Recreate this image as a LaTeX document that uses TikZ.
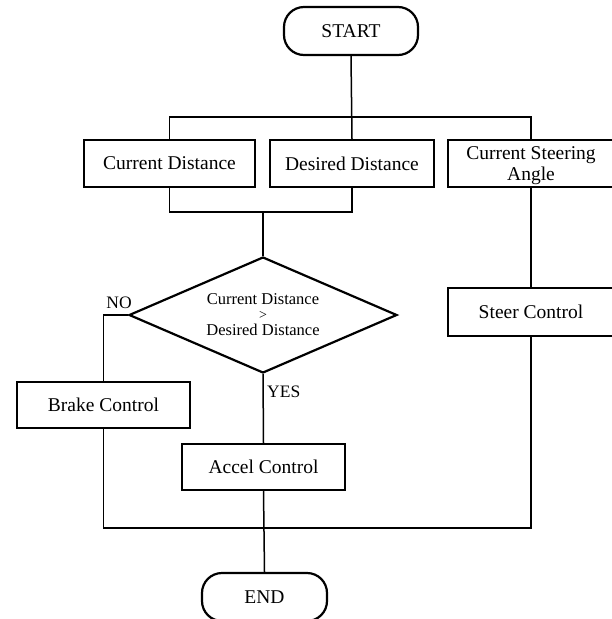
\documentclass[tikz,border=0pt]{standalone}
\usepackage{fontspec}
\setmainfont{Liberation Serif}
\usetikzlibrary{shapes.geometric}

\tikzset{
  box/.style={draw, line width=2.2pt, rectangle, inner sep=0pt,
    font=\fontsize{19.5}{21}\selectfont, align=center},
  term/.style={box, rounded corners=20pt},
  decision/.style={draw, line width=2.2pt, diamond, aspect=2.3, inner sep=0pt,
    minimum width=268pt, minimum height=116pt,
    font=\fontsize{16.5}{17}\selectfont, align=center},
  link/.style={line width=1.5pt},
  tag/.style={font=\fontsize{17.5}{19}\selectfont, inner sep=0pt}
}

\begin{document}
\begin{tikzpicture}[x=1pt, y=-1pt]
  \useasboundingbox (0,0) rectangle (611,619);

  % terminals
  \node[term, minimum width=134pt, minimum height=48pt] (start) at (351,31) {START};
  \node[term, minimum width=125pt, minimum height=48pt] (stop) at (264.5,597) {END};

  % inputs
  \node[box, minimum width=171pt, minimum height=47pt] (cd) at (169.5,163.5) {Current Distance};
  \node[box, minimum width=164pt, minimum height=47pt] (dd) at (352,163.5) {Desired Distance};
  \node[box, minimum width=166pt, minimum height=47pt, text depth=0pt] (csa) at (531,163.5) {Current Steering\\[0pt]Angle};

  % decision and actions
  \node[decision] (dec) at (263,315) {Current Distance\\[-2pt]{\fontsize{14}{15}\selectfont >}\\[-1pt]Desired Distance};
  \node[box, minimum width=173pt, minimum height=46pt] (brake) at (103.5,405) {Brake Control};
  \node[box, minimum width=163pt, minimum height=46pt] (accel) at (263.5,467) {Accel Control};
  \node[box, minimum width=166pt, minimum height=48pt] (steer) at (531,312) {Steer Control};

  % bus junctions
  \coordinate (topbus) at (351,117);
  \coordinate (midbus) at (263,212);
  \coordinate (botbus) at (263.5,528);

  % connectors
  \draw[link] (start.south) -- (dd.north);
  \draw[link] (cd.north) |- (topbus) -| (csa.north);
  \draw[link] (cd.south) |- (midbus) -| (dd.south);
  \draw[link] (midbus) -- (dec.north);
  \draw[link] (dec.west) -| (brake.north);
  \draw[link] (dec.south) -- (accel.north);
  \draw[link] (accel.south) -- (stop.north);
  \draw[link] (brake.south) |- (botbus) -| (steer.south);
  \draw[link] (csa.south) -- (steer.north);

  % branch labels
  \node[tag, anchor=south east] (no) at ([xshift=4pt,yshift=6pt]dec.west) {NO};
  \node[tag, anchor=north west] (yes) at ([xshift=4pt,yshift=-12pt]dec.south) {YES};
\end{tikzpicture}
\end{document}
